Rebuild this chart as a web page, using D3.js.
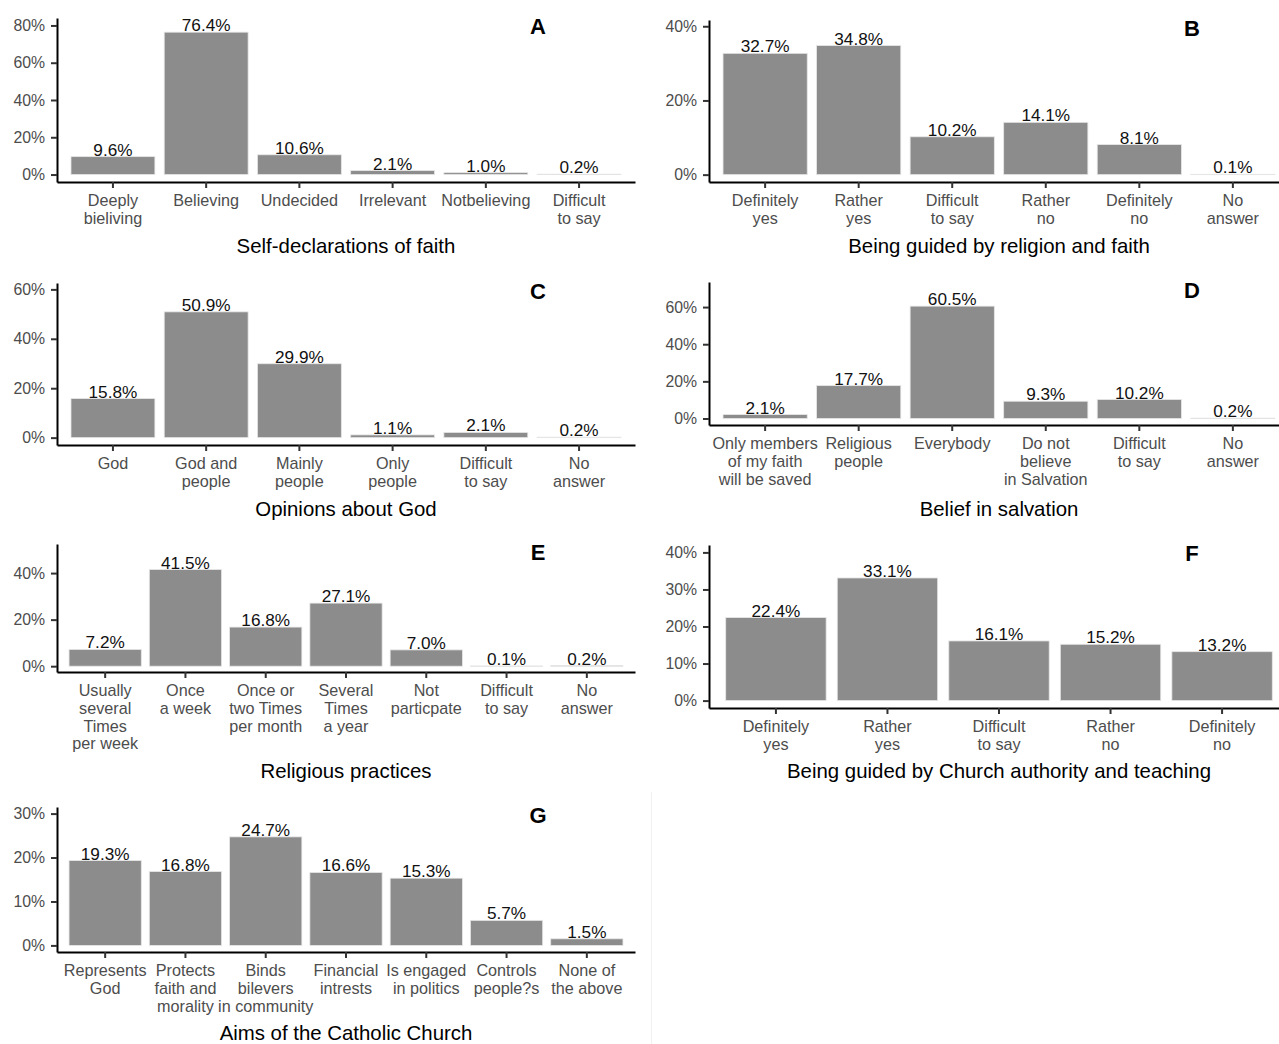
<!DOCTYPE html>
<html>
<head>
<meta charset="utf-8">
<script src="https://cdn.jsdelivr.net/npm/d3@7"></script>
<style>
  body { margin: 0; background: #fff; }
  svg { display: block; }
  text { font-family: "Liberation Sans", Arial, sans-serif; }
</style>
</head>
<body>
<svg id="chart" width="1279" height="1044"></svg>
<script>
// ---- Survey data (percent of respondents) ----
const faithCategories = ["Deeply\nbieliving", "Believing", "Undecided", "Irrelevant", "Notbelieving", "Difficult\nto say"];
const faithValues = [9.6, 76.4, 10.6, 2.1, 1.0, 0.2];
const faithTicks = [0, 20, 40, 60, 80];

const guidedCategories = ["Definitely\nyes", "Rather\nyes", "Difficult\nto say", "Rather\nno", "Definitely\nno", "No\nanswer"];
const guidedValues = [32.7, 34.8, 10.2, 14.1, 8.1, 0.1];
const guidedTicks = [0, 20, 40];

const godCategories = ["God", "God and\npeople", "Mainly\npeople", "Only\npeople", "Difficult\nto say", "No\nanswer"];
const godValues = [15.8, 50.9, 29.9, 1.1, 2.1, 0.2];
const godTicks = [0, 20, 40, 60];

const salvationCategories = ["Only members\nof my faith\nwill be saved", "Religious\npeople", "Everybody", "Do not\nbelieve\nin Salvation", "Difficult\nto say", "No\nanswer"];
const salvationValues = [2.1, 17.7, 60.5, 9.3, 10.2, 0.2];
const salvationTicks = [0, 20, 40, 60];

const practiceCategories = ["Usually\nseveral\nTimes\nper week", "Once\na week", "Once or\ntwo Times\nper month", "Several\nTimes\na year", "Not\nparticpate", "Difficult\nto say", "No\nanswer"];
const practiceValues = [7.2, 41.5, 16.8, 27.1, 7.0, 0.1, 0.2];
const practiceTicks = [0, 20, 40];

const churchCategories = ["Definitely\nyes", "Rather\nyes", "Difficult\nto say", "Rather\nno", "Definitely\nno"];
const churchValues = [22.4, 33.1, 16.1, 15.2, 13.2];
const churchTicks = [0, 10, 20, 30, 40];

const aimsCategories = ["Represents\nGod", "Protects\nfaith and\nmorality", "Binds\nbilevers\nin community", "Financial\nintrests", "Is engaged\nin politics", "Controls\npeople?s", "None of\nthe above"];
const aimsValues = [19.3, 16.8, 24.7, 16.6, 15.3, 5.7, 1.5];
const aimsTicks = [0, 10, 20, 30];

// ---- Panel definitions: data + frame of each small chart ----
const panels = [
  { tag: "A", title: "Self-declarations of faith", cats: faithCategories, vals: faithValues, ticks: faithTicks, ymax: 80,
    left: 57, right: 635, top: 18, bottom: 182, titleY: 253 },
  { tag: "B", title: "Being guided by religion and faith", cats: guidedCategories, vals: guidedValues, ticks: guidedTicks, ymax: 39.7,
    left: 709, right: 1289, top: 20, bottom: 182, titleY: 253 },
  { tag: "C", title: "Opinions about God", cats: godCategories, vals: godValues, ticks: godTicks, ymax: 59.6,
    left: 57, right: 635, top: 283, bottom: 445, titleY: 516 },
  { tag: "D", title: "Belief in salvation", cats: salvationCategories, vals: salvationValues, ticks: salvationTicks, ymax: 70,
    left: 709, right: 1289, top: 282, bottom: 425, titleY: 516 },
  { tag: "E", title: "Religious practices", cats: practiceCategories, vals: practiceValues, ticks: practiceTicks, ymax: 50,
    left: 57, right: 635, top: 544, bottom: 672, titleY: 778 },
  { tag: "F", title: "Being guided by Church authority and teaching", cats: churchCategories, vals: churchValues, ticks: churchTicks, ymax: 40,
    left: 709, right: 1289, top: 545, bottom: 708, titleY: 778 },
  { tag: "G", title: "Aims of the Catholic Church", cats: aimsCategories, vals: aimsValues, ticks: aimsTicks, ymax: 30,
    left: 57, right: 635, top: 807, bottom: 952, titleY: 1040 }
];

const svg = d3.select("#chart");
svg.append("rect").attr("width", 1279).attr("height", 1044).attr("fill", "#fff");

// faint frame edge of the bottom-right empty cell
svg.append("line")
  .attr("x1", 651.5).attr("x2", 651.5).attr("y1", 792).attr("y2", 1044)
  .attr("stroke", "#f0f0f0").attr("stroke-width", 1);

const BAR = "#8c8c8c";
const TICK_TEXT = "#4d4d4d";
const TICK_SIZE = 16.2;

panels.forEach(p => {
  const g = svg.append("g");

  const x = d3.scaleBand()
    .domain(p.cats)
    .range([p.left, p.right])
    .paddingInner(0.1)
    .paddingOuter(0.15);

  const y = d3.scaleLinear()
    .domain([-0.05 * p.ymax, 1.05 * p.ymax])
    .range([p.bottom, p.top]);

  // bars
  g.selectAll("rect.bar")
    .data(p.cats.map((c, i) => ({ c, v: p.vals[i] })))
    .join("rect")
    .attr("class", "bar")
    .attr("x", d => x(d.c))
    .attr("width", x.bandwidth())
    .attr("y", d => y(d.v))
    .attr("height", d => Math.max(0, y(0) - y(d.v)))
    .attr("fill", BAR)
    .attr("stroke", "#e6e6e6")
    .attr("stroke-width", 0.8);

  // value labels
  g.selectAll("text.val")
    .data(p.cats.map((c, i) => ({ c, v: p.vals[i] })))
    .join("text")
    .attr("class", "val")
    .attr("x", d => x(d.c) + x.bandwidth() / 2)
    .attr("y", d => y(d.v) - 1)
    .attr("text-anchor", "middle")
    .attr("font-size", 17.2)
    .attr("fill", "#111")
    .text(d => d.v.toFixed(1) + "%");

  // y axis
  const ya = g.append("g")
    .attr("transform", `translate(${p.left},0)`)
    .call(d3.axisLeft(y).tickValues(p.ticks).tickFormat(d => d + "%").tickSize(6).tickSizeOuter(0).tickPadding(6));
  ya.select(".domain").attr("stroke", "#000").attr("stroke-width", 2);
  ya.selectAll(".tick line").attr("stroke", "#333").attr("stroke-width", 2);
  ya.selectAll(".tick text").attr("font-size", 15.8).attr("fill", TICK_TEXT)
    .attr("font-family", "\"Liberation Sans\", Arial, sans-serif");

  // x axis
  const xa = g.append("g")
    .attr("transform", `translate(0,${p.bottom})`)
    .call(d3.axisBottom(x).tickSize(6).tickSizeOuter(0).tickFormat(""));
  xa.select(".domain").attr("stroke", "#000").attr("stroke-width", 2);
  xa.selectAll(".tick line").attr("stroke", "#333").attr("stroke-width", 2);
  xa.selectAll(".tick text").remove();

  // multi-line category labels
  p.cats.forEach(c => {
    const t = g.append("text")
      .attr("text-anchor", "middle")
      .attr("font-size", TICK_SIZE)
      .attr("fill", TICK_TEXT)
      .attr("transform", `translate(${x(c) + x.bandwidth() / 2},${p.bottom + 24})`);
    c.split("\n").forEach((line, k) => {
      t.append("tspan").attr("x", 0).attr("y", k * 17.8).text(line);
    });
  });

  // axis title
  g.append("text")
    .attr("x", (p.left + p.right) / 2)
    .attr("y", p.titleY)
    .attr("text-anchor", "middle")
    .attr("font-size", 20.4)
    .attr("fill", "#000")
    .text(p.title);

  // panel tag
  g.append("text")
    .attr("x", p.right - 97)
    .attr("y", p.top + 16)
    .attr("text-anchor", "middle")
    .attr("font-size", 22)
    .attr("font-weight", "bold")
    .attr("fill", "#000")
    .text(p.tag);
});
</script>
</body>
</html>
